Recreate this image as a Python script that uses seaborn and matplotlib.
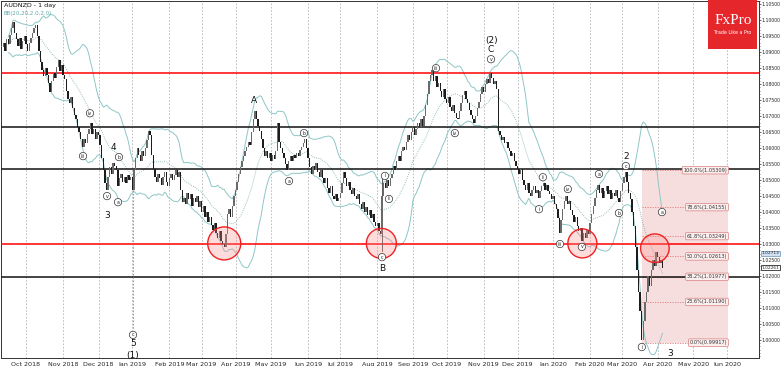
import numpy as np
import pandas as pd
import matplotlib
matplotlib.use("Agg")
import matplotlib.pyplot as plt
import seaborn as sns
from matplotlib.patches import Rectangle, Ellipse
from matplotlib.transforms import blended_transform_factory

# ---------------- data ----------------
start_date = "2018-09-10"
closes = [
    1.0915, 1.0930, 1.0905, 1.0940, 1.0925, 1.0955, 1.0975, 1.0995, 1.0960, 1.0940,
    1.0920, 1.0945, 1.0910, 1.0935, 1.0950, 1.0925, 1.0905, 1.0930, 1.0945, 1.0960,
    1.0975, 1.0985, 1.0950, 1.0905, 1.0870, 1.0845, 1.0825, 1.0850, 1.0830, 1.0805,
    1.0775, 1.0810, 1.0835, 1.0820, 1.0855, 1.0875, 1.0840, 1.0860, 1.0830, 1.0815,
    1.0780, 1.0755, 1.0740, 1.0760, 1.0725, 1.0705, 1.0690, 1.0665, 1.0650, 1.0630,
    1.0605, 1.0630, 1.0615, 1.0645, 1.0660, 1.0680, 1.0645, 1.0660, 1.0630, 1.0650,
    1.0640, 1.0610, 1.0570, 1.0530, 1.0490, 1.0470, 1.0510, 1.0540, 1.0520, 1.0555,
    1.0545, 1.0530, 1.0480, 1.0505, 1.0520, 1.0495, 1.0510, 1.0490, 1.0515, 1.0500,
    1.0510, 1.0470, 1.0530, 1.0570, 1.0600, 1.0580, 1.0560, 1.0590, 1.0575, 1.0600,
    1.0625, 1.0655, 1.0640, 1.0580, 1.0535, 1.0510, 1.0495, 1.0520, 1.0505, 1.0485,
    1.0510, 1.0525, 1.0495, 1.0480, 1.0505, 1.0520, 1.0500, 1.0515, 1.0530, 1.0510,
    1.0525, 1.0470, 1.0430, 1.0445, 1.0425, 1.0460, 1.0440, 1.0455, 1.0420, 1.0445,
    1.0430, 1.0450, 1.0415, 1.0435, 1.0400, 1.0420, 1.0385, 1.0400, 1.0370, 1.0385,
    1.0360, 1.0345, 1.0365, 1.0335, 1.0320, 1.0340, 1.0310, 1.0300, 1.0290, 1.0330,
    1.0395, 1.0410, 1.0385, 1.0420, 1.0450, 1.0470, 1.0495, 1.0520, 1.0540, 1.0560,
    1.0575, 1.0590, 1.0605, 1.0620, 1.0610, 1.0650, 1.0690, 1.0715, 1.0690, 1.0670,
    1.0655, 1.0630, 1.0600, 1.0575, 1.0590, 1.0570, 1.0585, 1.0560, 1.0580, 1.0565,
    1.0590, 1.0680, 1.0620, 1.0600, 1.0585, 1.0570, 1.0550, 1.0530, 1.0560, 1.0575,
    1.0560, 1.0580, 1.0570, 1.0585, 1.0575, 1.0595, 1.0605, 1.0615, 1.0630, 1.0600,
    1.0570, 1.0540, 1.0520, 1.0545, 1.0530, 1.0555, 1.0525, 1.0510, 1.0530, 1.0505,
    1.0490, 1.0505, 1.0475, 1.0460, 1.0480, 1.0450, 1.0440, 1.0455, 1.0435, 1.0445,
    1.0460, 1.0490, 1.0525, 1.0505, 1.0480, 1.0495, 1.0470, 1.0455, 1.0475, 1.0450,
    1.0440, 1.0455, 1.0425, 1.0410, 1.0430, 1.0400, 1.0415, 1.0390, 1.0405, 1.0380,
    1.0395, 1.0370, 1.0355, 1.0365, 1.0340, 1.0330, 1.0450, 1.0490, 1.0475, 1.0500,
    1.0480, 1.0505, 1.0520, 1.0545, 1.0530, 1.0560, 1.0575, 1.0560, 1.0590, 1.0605,
    1.0595, 1.0620, 1.0640, 1.0625, 1.0650, 1.0665, 1.0640, 1.0660, 1.0680, 1.0665,
    1.0690, 1.0670, 1.0700, 1.0735, 1.0770, 1.0810, 1.0830, 1.0845, 1.0810, 1.0825,
    1.0790, 1.0805, 1.0780, 1.0760, 1.0785, 1.0755, 1.0740, 1.0760, 1.0730, 1.0715,
    1.0735, 1.0710, 1.0695, 1.0690, 1.0715, 1.0740, 1.0765, 1.0780, 1.0755, 1.0740,
    1.0720, 1.0705, 1.0690, 1.0680, 1.0700, 1.0725, 1.0745, 1.0770, 1.0790, 1.0775,
    1.0800, 1.0815, 1.0805, 1.0835, 1.0820, 1.0800, 1.0810, 1.0785, 1.0655, 1.0640,
    1.0625, 1.0635, 1.0615, 1.0620, 1.0600, 1.0590, 1.0575, 1.0585, 1.0560, 1.0545,
    1.0535, 1.0520, 1.0535, 1.0500, 1.0485, 1.0470, 1.0490, 1.0460, 1.0450, 1.0470,
    1.0480, 1.0460, 1.0470, 1.0445, 1.0465, 1.0480, 1.0490, 1.0470, 1.0485, 1.0465,
    1.0455, 1.0440, 1.0450, 1.0425, 1.0410, 1.0380, 1.0335, 1.0375, 1.0410, 1.0435,
    1.0450, 1.0425, 1.0435, 1.0405, 1.0390, 1.0370, 1.0385, 1.0355, 1.0340, 1.0350,
    1.0310, 1.0335, 1.0320, 1.0345, 1.0330, 1.0365, 1.0395, 1.0420, 1.0445, 1.0470,
    1.0485, 1.0460, 1.0475, 1.0445, 1.0465, 1.0480, 1.0455, 1.0470, 1.0440, 1.0460,
    1.0450, 1.0470, 1.0445, 1.0430, 1.0465, 1.0490, 1.0510, 1.0525, 1.0495, 1.0460,
    1.0440, 1.0400, 1.0355, 1.0290, 1.0220, 1.0150, 1.0090, 1.0000, 1.0060, 1.0120,
    1.0150, 1.0200, 1.0170, 1.0220, 1.0250, 1.0230, 1.0275, 1.0260, 1.0240, 1.0250,
    1.0226,
]

red_levels = [1.0836, 1.0300]
black_levels = [1.0667, 1.0535, 1.0197]

fib_high = 1.05309
fib_low = 0.99917
fib_ratios = [1.0, 0.786, 0.618, 0.5, 0.382, 0.236, 0.0]
fib_start_idx = 397

# circles drawn around key support tests: (bar index, price, radius px)
circles = [(138.0, 1.0302, 16.5), (235.5, 1.0302, 15.0), (360.2, 1.0302, 14.5), (405.2, 1.0287, 14.3)]

# Elliott wave labels: (text, bar index, price)
circled_labels = [
    ("iii", 50.4, 1.0575), ("iv", 54.7, 1.0709), ("v", 65.3, 1.0450), ("b", 72.7, 1.0572),
    ("a", 72.1, 1.0431), ("c", 81.4, 1.0016), ("a", 178.2, 1.0497), ("b", 187.5, 1.0647),
    ("c", 235.9, 1.0259), ("i", 237.7, 1.0513), ("ii", 240.2, 1.0441), ("iii", 269.4, 1.0850),
    ("iv", 281.1, 1.0647), ("v", 303.5, 1.0878), ("i", 333.3, 1.0409), ("ii", 335.7, 1.0509),
    ("iii", 346.3, 1.0300), ("iv", 351.2, 1.0472), ("v", 359.9, 1.0291), ("a", 370.5, 1.0519),
    ("b", 382.9, 1.0397), ("c", 387.2, 1.0544), ("a", 409.6, 1.0400), ("i", 397.1, 0.9978),
]
big_labels = [
    ("3", 65.3, 1.0388), ("4", 69.0, 1.0603), ("5", 81.4, 0.9988), ("(1)", 81.4, 0.9953),
    ("A", 156.5, 1.0750), ("B", 235.9, 1.0222), ("C", 303.5, 1.0909), ("(2)", 304.1, 1.0938),
    ("2", 387.2, 1.0575), ("3", 414.5, 0.9959),
]

price_tags = [(1.02713, "#cfe0f2", "#6a8fb8"), (1.02261, "white", "black")]

# ---------------- figure ----------------
sns.set_style("white")
plt.rcParams["font.family"] = ["DejaVu Sans"]

W, H = 782, 366
fig = plt.figure(figsize=(W / 100, H / 100), dpi=100)
ax_left, ax_right, ax_top, ax_bot = 1, 759, 1, 358
ax = fig.add_axes([ax_left / W, 1 - ax_bot / H, (ax_right - ax_left) / W, (ax_bot - ax_top) / H])

n = len(closes)
dates_all = pd.bdate_range(start_date, "2020-07-15")
idx = np.arange(n)
c = np.array(closes)
o = np.r_[c[0], c[:-1]]

xmin, xmax = -0.5, 469.8
ymin, ymax = 0.99437, 1.10594
ax.set_xlim(xmin, xmax)
ax.set_ylim(ymin, ymax)
px_x = (ax_right - ax_left) / (xmax - xmin)
px_y = (ax_bot - ax_top) / (ymax - ymin)

# month grid
month_starts = pd.date_range("2018-10-01", "2020-06-01", freq="MS")
mpos = [int(np.searchsorted(dates_all, d)) for d in month_starts]
mlab = [d.strftime("%b %Y") for d in month_starts]
for p in mpos:
    ax.axvline(p, color="#b4b4b4", lw=0.6, ls=(0, (2, 2)), zorder=0)
ax.set_xticks(mpos)
ax.set_xticklabels(mlab, fontsize=4.6)
ax.tick_params(axis="x", length=2, pad=0.8, width=0.5)

# fibonacci box
fx_end = (728 - ax_left) / px_x + xmin
ax.add_patch(Rectangle((fib_start_idx, fib_low), fx_end - fib_start_idx, fib_high - fib_low,
                       facecolor="#f7dede", edgecolor="none", zorder=0.5))
lab_start = (697 - ax_left) / px_x + xmin
for r in fib_ratios:
    lv = fib_low + r * (fib_high - fib_low)
    ax.plot([fib_start_idx, lab_start], [lv, lv], color="#e07a7a", lw=0.6, ls=(0, (1.5, 1.5)), zorder=1)
    ax.text(fx_end - 0.5, lv, f"{r*100:.1f}%({lv:.5f})", fontsize=3.6, ha="right", va="center",
            color="#333333", zorder=6,
            bbox=dict(boxstyle="round,pad=0.25", fc="#fbeeee", ec="#d98080", lw=0.5))

# horizontal levels
for lv in red_levels:
    ax.axhline(lv, color="#ff0000", lw=1.1, zorder=3)
for lv in black_levels:
    ax.axhline(lv, color="#111111", lw=1.1, zorder=3)

# bollinger bands
s = pd.Series(c)
mid = s.rolling(20, min_periods=5).mean()
sd = s.rolling(20, min_periods=5).std(ddof=0)
bb = pd.DataFrame({"idx": idx, "upper": mid + 2 * sd, "lower": mid - 2 * sd, "mid": mid})
sns.lineplot(data=bb, x="idx", y="upper", ax=ax, color="#8ec6c6", lw=0.7, zorder=2)
sns.lineplot(data=bb, x="idx", y="lower", ax=ax, color="#8ec6c6", lw=0.7, zorder=2)
sns.lineplot(data=bb, x="idx", y="mid", ax=ax, color="#7aa9a9", lw=0.6, ls=(0, (1, 1.5)), zorder=2)

# candles
bull = c >= o
height = np.where(np.abs(c - o) < 0.0003, 0.0003, np.abs(c - o))
bottom = np.minimum(c, o)
ax.bar(idx[bull], height[bull], bottom=bottom[bull], width=0.85, color="#6a6a6a", zorder=4, linewidth=0)
ax.bar(idx[~bull], height[~bull], bottom=bottom[~bull], width=0.85, color="#1c1c1c", zorder=4, linewidth=0)

# connector lines
ax.plot([81.4, 81.4], [1.0469, 1.0031], color="#888888", lw=0.6, ls=(0, (2, 2)), zorder=3)
ax.plot([235.9, 235.9], [1.0522, 1.0278], color="#444444", lw=0.6, zorder=3)

# circles
for cx, cy, r in circles:
    ax.add_patch(Ellipse((cx, cy), 2 * r / px_x, 2 * r / px_y, facecolor=(1, 0.55, 0.55, 0.3),
                         edgecolor="#ee2222", lw=1.0, zorder=5))

# wave labels
for t, xx, yy in circled_labels:
    ax.text(xx, yy, t, fontsize=3.4, ha="center", va="center", color="#222222", zorder=7,
            bbox=dict(boxstyle="circle,pad=0.25", fc="white", ec="#333333", lw=0.5))
for t, xx, yy in big_labels:
    ax.text(xx, yy, t, fontsize=6.5, ha="center", va="center", color="#111111", zorder=7)

# axes / ticks
ax.yaxis.tick_right()
yt = np.round(np.arange(1.0, 1.1051, 0.005), 3)
ax.set_yticks(yt)
ax.set_yticklabels([f"{v:.5f}" for v in yt], fontsize=3.3)
ax.set_yticks(np.arange(0.995, 1.106, 0.001), minor=True)
ax.tick_params(axis="y", which="major", length=1.6, pad=0.4, width=0.5)
ax.tick_params(axis="y", which="minor", length=1.0, width=0.4, right=True)
for sp in ax.spines.values():
    sp.set_color("#333333")
    sp.set_linewidth(0.7)
ax.set_xlabel("")
ax.set_ylabel("")

trans = blended_transform_factory(ax.transAxes, ax.transData)
for val, fc, ec in price_tags:
    ax.text(1.0028, val, f"{val:.5f}", transform=trans, fontsize=3.2, ha="left", va="center",
            zorder=8, clip_on=False, bbox=dict(boxstyle="square,pad=0.12", fc=fc, ec=ec, lw=0.5))

# header texts
fig.text(4 / W, 1 - 5 / H, "AUDNZD - 1 day", fontsize=4.6, ha="left", va="center", color="#111111")
fig.text(4 / W, 1 - 13 / H, "BB(20,20,2.0,2.0)", fontsize=4.0, ha="left", va="center", color="#5fa8a8")

# logo
fig.add_artist(Rectangle((708 / W, 1 - 49 / H), 49 / W, 49 / H, transform=fig.transFigure,
                         facecolor="#e5262b", edgecolor="none", zorder=10))
fig.text(733 / W, 1 - 21 / H, "FxPro", fontsize=11, ha="center", va="center", color="white",
         family="Liberation Serif", zorder=11)
fig.text(733 / W, 1 - 32 / H, "Trade Like a Pro", fontsize=3.4, ha="center", va="center",
         color="white", zorder=11)

fig.savefig("out.png", dpi=100)
